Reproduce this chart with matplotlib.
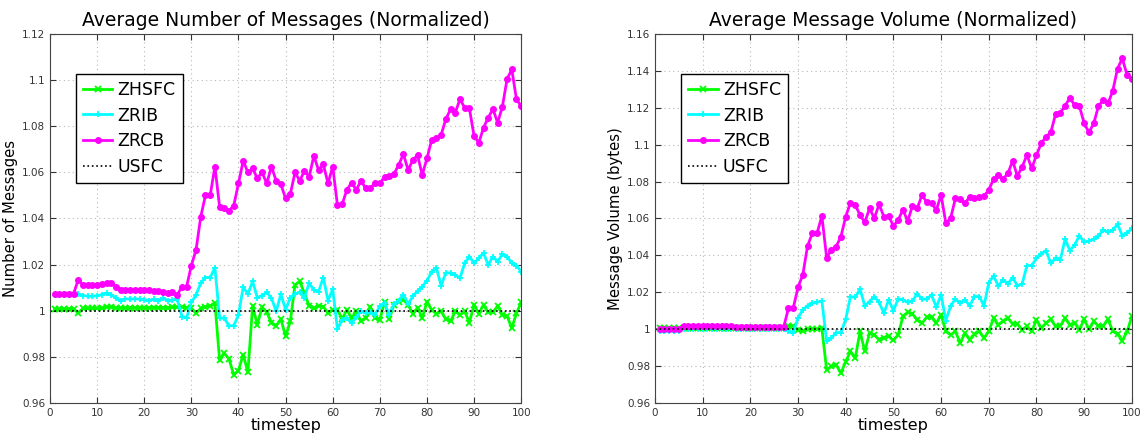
import matplotlib
matplotlib.use("Agg")
import matplotlib.pyplot as plt
import numpy as np

timesteps = np.arange(1, 101)

# left panel: average number of messages (normalized)
num_zhsfc = [1.0008, 1.0008, 1.0008, 1.0008, 1.0008, 0.999, 1.001, 1.001, 1.001, 1.001,
             1.001, 1.0017, 1.0017, 1.0013, 1.0012, 1.0012, 1.0012, 1.0013, 1.0013, 1.0013,
             1.0013, 1.0014, 1.0014, 1.0014, 1.0014, 1.0015, 1.0015, 1.0017, 1.0014, 1.001,
             0.999, 1.001, 1.0017, 1.002, 1.0033, 0.9785, 0.9816, 0.979, 0.9723, 0.9741,
             0.981, 0.9733, 1.0021, 0.9939, 1.0016, 0.9993, 0.9949, 0.9935, 0.9964, 0.9889,
             0.9954, 1.0112, 1.0127, 1.0076, 1.0021, 1.001, 1.0021, 1.0018, 0.999, 1.0004,
             1.0004, 0.9964, 1.0004, 0.9968, 0.9997, 0.9954, 0.9968, 1.0017, 0.9968, 0.9961,
             1.004, 0.9964, 1.0026, 1.004, 1.0047, 1.0026, 0.9986, 1.0014, 0.9968, 1.004,
             1.0004, 0.9987, 0.9997, 0.9964, 0.9954, 0.9997, 0.9983, 0.9997, 0.9949, 1.0026,
             0.9987, 1.0026, 0.9993, 0.9993, 1.0021, 0.9983, 0.9976, 0.9925, 0.999, 1.0036]
num_zrib = [1.007, 1.007, 1.007, 1.007, 1.007, 1.0072, 1.0066, 1.0063, 1.0063, 1.0065,
            1.007, 1.0076, 1.007, 1.0055, 1.0043, 1.0052, 1.005, 1.0052, 1.005, 1.0048,
            1.0044, 1.005, 1.0044, 1.0055, 1.0044, 1.0046, 1.005, 0.9975, 0.997, 1.0036,
            1.0069, 1.012, 1.0144, 1.0144, 1.0187, 0.9968, 0.9968, 0.9935, 0.9935, 0.9982,
            1.0102, 1.0073, 1.0127, 1.0057, 1.0066, 1.008, 1.0055, 0.9997, 1.0072, 1.0004,
            1.0057, 1.0072, 1.008, 1.0057, 1.012, 1.009, 1.0083, 1.0144, 1.0044, 1.0094,
            0.992, 0.996, 0.9968, 0.9946, 0.9975, 0.9997, 0.999, 0.9993, 0.9982, 1.0021,
            1.0033, 0.9982, 1.003, 1.0044, 1.0069, 1.003, 1.0062, 1.0086, 1.0105, 1.013,
            1.017, 1.0187, 1.0108, 1.0165, 1.0163, 1.0156, 1.0141, 1.0206, 1.0235, 1.0206,
            1.0228, 1.025, 1.0199, 1.0235, 1.0213, 1.0245, 1.0235, 1.0206, 1.0196, 1.017]
num_zrcb = [1.0073, 1.0073, 1.0073, 1.0073, 1.0073, 1.0135, 1.0112, 1.0111, 1.0111, 1.0112,
            1.0115, 1.012, 1.012, 1.0105, 1.0092, 1.0092, 1.0092, 1.0091, 1.009, 1.009,
            1.0088, 1.0087, 1.0085, 1.008, 1.0078, 1.008, 1.007, 1.0103, 1.0105, 1.0196,
            1.0264, 1.0408, 1.05, 1.05, 1.0625, 1.045, 1.0444, 1.0434, 1.0456, 1.0552,
            1.065, 1.06, 1.0617, 1.0574, 1.06, 1.0552, 1.0625, 1.0563, 1.0548, 1.0487,
            1.0505, 1.06, 1.0563, 1.0606, 1.0581, 1.0671, 1.061, 1.0635, 1.0552, 1.0625,
            1.0458, 1.0461, 1.0524, 1.0555, 1.0524, 1.0563, 1.0531, 1.0531, 1.0555, 1.0552,
            1.0581, 1.0584, 1.0593, 1.0632, 1.0679, 1.061, 1.0653, 1.0675, 1.0588, 1.0661,
            1.074, 1.075, 1.0762, 1.083, 1.0873, 1.0858, 1.0917, 1.088, 1.0877, 1.0757,
            1.0728, 1.0793, 1.0837, 1.0874, 1.0815, 1.0884, 1.1004, 1.1046, 1.0916, 1.0887]

# right panel: average message volume (normalized)
vol_zhsfc = [1.0005] * 27 + [
             1.0018, 1.0018, 0.9997, 0.9991, 1.0, 1.0, 1.0, 1.0005, 0.978, 0.9798,
             0.9807, 0.9762, 0.9825, 0.988, 0.9843, 0.9988, 0.988, 0.9979, 0.997, 0.9943,
             0.9955, 0.9961, 0.9939, 0.997, 1.0069, 1.0091, 1.0083, 1.0051, 1.0033, 1.0065,
             1.0065, 1.0033, 1.0078, 0.9988, 0.997, 0.9988, 0.9925, 0.9979, 0.9943, 0.9973,
             0.9988, 0.9952, 0.9988, 1.006, 1.0024, 1.0042, 1.006, 1.0029, 1.0029, 0.9997,
             1.0015, 0.9988, 1.0051, 1.0006, 1.0033, 1.0054, 1.0015, 1.0018, 1.006, 1.0024,
             1.0033, 0.9997, 1.0054, 1.0, 1.0042, 1.0018, 1.0018, 1.0054, 0.9988, 0.9975,
             0.9937, 0.9988, 1.0069]
vol_zrib = [0.9988] * 5 + [1.0003] * 22 + [
            0.9988, 0.9982, 1.006, 1.0105, 1.0127, 1.0141, 1.0145, 1.0154, 0.9937, 0.9952,
            0.9982, 0.9982, 1.0054, 1.0177, 1.0172, 1.0217, 1.0127, 1.015, 1.0177, 1.0145,
            1.0087, 1.0159, 1.0101, 1.0164, 1.0159, 1.0145, 1.0154, 1.0192, 1.0163, 1.0163,
            1.0186, 1.0119, 1.0186, 1.0047, 1.0127, 1.0163, 1.0141, 1.0159, 1.0127, 1.0177,
            1.0177, 1.0127, 1.0253, 1.0289, 1.0235, 1.0267, 1.0246, 1.028, 1.0235, 1.0246,
            1.0345, 1.0345, 1.0384, 1.0408, 1.0426, 1.0357, 1.0384, 1.0375, 1.0489, 1.0426,
            1.0457, 1.0507, 1.0471, 1.0478, 1.0487, 1.0505, 1.0538, 1.0525, 1.0538, 1.0568,
            1.0507, 1.052, 1.0547]
vol_zrcb = [1.0, 1.0, 1.0, 1.0, 1.0, 1.002, 1.002, 1.002, 1.002, 1.002,
            1.002, 1.002, 1.0018, 1.0016, 1.0015, 1.0015, 1.0014, 1.0014, 1.0014, 1.0014,
            1.0014, 1.0013, 1.0013, 1.0013, 1.0013, 1.0012, 1.0012, 1.0114, 1.0114, 1.0228,
            1.0294, 1.0451, 1.052, 1.052, 1.0614, 1.0388, 1.043, 1.0448, 1.0502, 1.061,
            1.0686, 1.0673, 1.0619, 1.0579, 1.0655, 1.0601, 1.0677, 1.061, 1.0614, 1.0559,
            1.0592, 1.0646, 1.0586, 1.0669, 1.0655, 1.0727, 1.0688, 1.0682, 1.0646, 1.0727,
            1.0574, 1.0601, 1.0709, 1.0704, 1.0682, 1.0718, 1.0713, 1.0715, 1.0722, 1.0754,
            1.0814, 1.0835, 1.0814, 1.0844, 1.0911, 1.083, 1.088, 1.0944, 1.0871, 1.0944,
            1.1007, 1.1043, 1.1066, 1.1165, 1.1174, 1.121, 1.1254, 1.1214, 1.1209, 1.1115,
            1.1066, 1.1115, 1.1209, 1.1241, 1.1223, 1.1292, 1.1412, 1.1467, 1.1376, 1.1355]

titles = ["Average Number of Messages (Normalized)", "Average Message Volume (Normalized)"]
ylabels = ["Number of Messages", "Message Volume (bytes)"]
yticks_list = [np.arange(0.96, 1.121, 0.02), np.arange(0.96, 1.161, 0.02)]
panels = [(num_zhsfc, num_zrib, num_zrcb), (vol_zhsfc, vol_zrib, vol_zrcb)]

fig = plt.figure(figsize=(11.41, 4.4), dpi=100)
axes = [fig.add_axes([0.0438, 0.084, 0.413, 0.839]),
        fig.add_axes([0.574, 0.084, 0.418, 0.839])]

for ax, (zh, zr, zc), title, ylab, yt in zip(axes, panels, titles, ylabels, yticks_list):
    ax.plot(timesteps, zh, color=(0, 1, 0), lw=2, marker='x', ms=4, mew=1.3, label='ZHSFC')
    ax.plot(timesteps, zr, color=(0, 1, 1), lw=2, marker='+', ms=5, mew=1.3, label='ZRIB')
    ax.plot(timesteps, zc, color=(1, 0, 1), lw=2, marker='o', ms=4, label='ZRCB')
    ax.axhline(1.0, color='black', ls=':', lw=1.2, label='USFC')
    ax.set_xlim(0, 100)
    ax.set_ylim(yt[0], yt[-1])
    ax.set_xticks(np.arange(0, 101, 10))
    ax.set_yticks(yt)
    ax.set_yticklabels(['%g' % round(v, 2) for v in yt])
    ax.tick_params(direction='in', labelsize=7.5, top=True, right=True, length=4,
                   colors='#333333')
    ax.grid(True, ls=(0, (1, 3)), color='#b8b8b8', lw=0.8)
    for s in ax.spines.values():
        s.set_color('#444444')
    ax.set_title(title, fontsize=13.5, pad=6)
    ax.set_xlabel('timestep', fontsize=11.5, labelpad=0)
    ax.set_ylabel(ylab, fontsize=10.7, labelpad=3)
    leg = ax.legend(loc='upper left', bbox_to_anchor=(0.055, 0.892), fontsize=12.5,
                    fancybox=False, framealpha=1, edgecolor='black', handlelength=1.7,
                    handletextpad=0.3, borderpad=0.4, labelspacing=0.45, borderaxespad=0)
    leg.get_frame().set_linewidth(1)

fig.savefig('out.png', dpi=100)
